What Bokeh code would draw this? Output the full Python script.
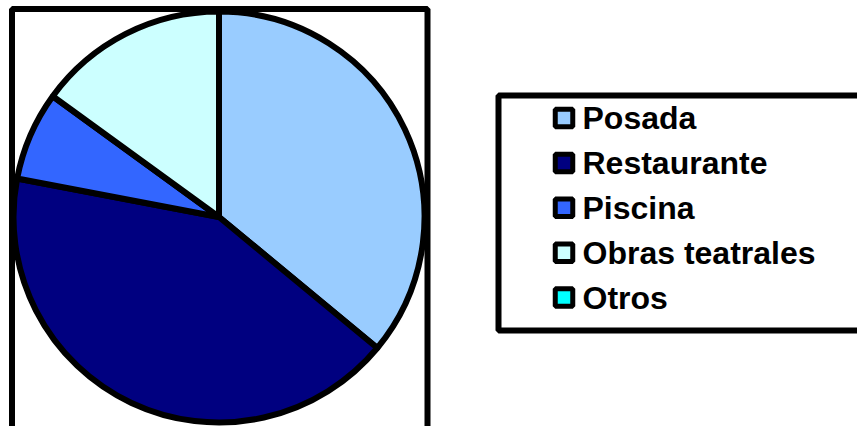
from math import pi

from bokeh.core.properties import value
from bokeh.embed import file_html
from bokeh.models import ColumnDataSource, Range1d
from bokeh.plotting import figure
from bokeh.resources import INLINE

# Share of responses per attraction (percent)
categories = ["Posada", "Restaurante", "Piscina", "Obras teatrales", "Otros"]
shares = [36, 42, 7, 15, 0]
colors = ["#99CCFF", "#000080", "#3366FF", "#CCFFFF", "#00FFFF"]

W, H = 857, 426

p = figure(width=W, height=H, output_backend="svg", toolbar_location=None,
           x_range=Range1d(0, W), y_range=Range1d(0, H),
           min_border=0, background_fill_color="white")
p.axis.visible = False
p.grid.visible = False
p.outline_line_color = None

# Plot area frame
p.quad(left=[11.5], right=[427], top=[H - 8.5], bottom=[-10],
       fill_color=None, line_color="black", line_width=6)

# Pie, starting at 12 o'clock and running clockwise
total = float(sum(shares))
starts, ends = [], []
acc = 0.0
for s in shares:
    starts.append(pi / 2 - 2 * pi * acc / total)
    acc += s
    ends.append(pi / 2 - 2 * pi * acc / total)

pie_src = ColumnDataSource(dict(cat=categories, share=shares, color=colors,
                                start=starts, end=ends))
nonzero = [i for i, s in enumerate(shares) if s > 0]
pie_view = ColumnDataSource({k: [v[i] for i in nonzero] for k, v in pie_src.data.items()})
p.wedge(x=218.5, y=H - 216.5, radius=205.5, start_angle="start", end_angle="end",
        direction="clock", fill_color="color", line_color="black",
        line_width=6, source=pie_view)

# Legend box
p.quad(left=[498], right=[W + 10], top=[H - 95], bottom=[H - 330],
       fill_color="white", line_color="black", line_width=6)

row_y = [H - (117.5 + 44.9 * i) for i in range(len(categories))]
leg_src = ColumnDataSource(dict(cat=categories, color=colors, y=row_y))
p.rect(x=563.5, y="y", width=17.5, height=17.5, fill_color="color",
       line_color="black", line_width=5, source=leg_src)
p.text(x=582, y="y", text="cat", text_font=value("Liberation Sans"),
       text_font_style="bold", text_font_size="32px", text_color="black",
       text_baseline="middle", text_align="left", source=leg_src)

open("out.html", "w").write(file_html(p, INLINE))
